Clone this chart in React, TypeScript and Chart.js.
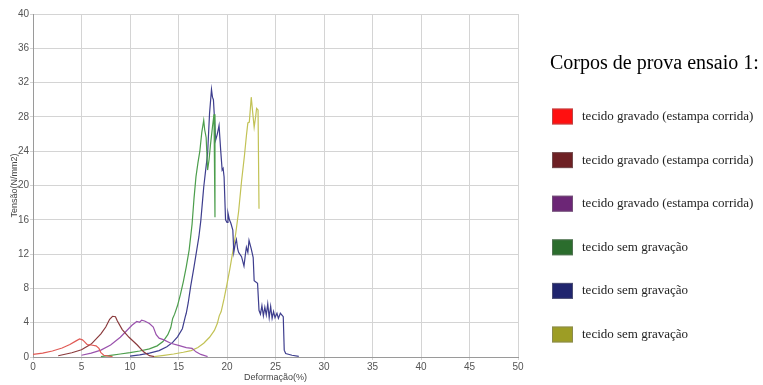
import React, { useEffect, useRef } from "react";
import { Chart, registerables } from "chart.js";

Chart.register(...registerables);

const LEGEND_TITLE = "Corpos de prova ensaio 1:";
const X_TITLE = "Deformação(%)";
const Y_TITLE = "Tensão(N/mm2)";

const seriesLabels = [
  "tecido gravado (estampa corrida)",
  "tecido gravado (estampa corrida)",
  "tecido gravado (estampa corrida)",
  "tecido sem gravação",
  "tecido sem gravação",
  "tecido sem gravação",
];
const lineColors = ["#e05a55", "#8a3a3c", "#9a52ad", "#4c9e4c", "#3e3e8e", "#c2c255"];
const legendColors = ["#ff1010", "#6e2024", "#6c2676", "#2b6d2d", "#20256e", "#9d9d25"];

// Series 1 (red)
const s1Strain = [0, 1, 2, 3, 3.8, 4.4, 4.8, 5.1, 5.3, 5.6, 6.0, 6.5, 6.8, 7.0, 7.3, 7.8, 8.2];
const s1Stress = [0.3, 0.45, 0.7, 1.05, 1.45, 1.85, 2.1, 2.0, 1.8, 1.45, 1.4, 1.3, 1.0, 0.5, 0.2, 0.1, 0.05];
// Series 2 (brown)
const s2Strain = [2.6, 4, 5, 6, 7, 7.5, 7.9, 8.2, 8.5, 8.7, 9.2, 9.9, 10.75, 11.4, 12.0, 12.5];
const s2Stress = [0.15, 0.5, 0.85, 1.5, 2.7, 3.5, 4.4, 4.75, 4.7, 4.2, 3.2, 2.3, 1.4, 0.6, 0.15, 0.05];
// Series 3 (purple)
const s3Strain = [5, 6, 7, 8, 9, 9.6, 10.2, 10.7, 11.0, 11.2, 11.5, 12.0, 12.4, 12.7, 13.0, 13.5, 14.2, 15, 15.8, 16.4, 16.8, 17.3, 18.0];
const s3Stress = [0.2, 0.45, 0.8, 1.4, 2.3, 3.0, 3.7, 4.15, 4.05, 4.3, 4.2, 3.9, 3.5, 2.6, 2.2, 2.0, 1.6, 1.35, 1.1, 1.0, 0.6, 0.3, 0.05];
// Series 4 (green)
const s4Strain = [7.0, 8, 9, 10, 11, 12, 12.8, 13.4, 13.9, 14.2, 14.4, 14.6, 14.9, 15.2, 15.5, 15.8, 16.1, 16.4, 16.6, 16.8, 17.0, 17.2, 17.4, 17.6, 17.7, 17.85, 18.0, 18.15, 18.3, 18.5, 18.66, 18.76];
const s4Stress = [0.05, 0.2, 0.35, 0.5, 0.7, 0.95, 1.3, 1.8, 2.6, 3.4, 4.5, 5.0, 6.0, 7.3, 8.8, 10.5, 12.5, 15.5, 18.5, 21.0, 22.6, 24.0, 26.2, 27.6, 26.5, 25.6, 21.8, 23.0, 24.8, 26.8, 28.3, 16.3];
// Series 5 (navy)
const s5Strain = [10, 11, 12, 13, 13.8, 14.4, 14.9, 15.4, 15.7, 15.8, 16.0, 16.25, 16.6, 16.9, 17.1, 17.3, 17.5, 17.6, 17.8, 18.0, 18.2, 18.35, 18.4, 18.5, 18.6, 18.7, 18.83, 19.0, 19.18, 19.35, 19.5, 19.6, 19.7, 19.85, 20.0, 20.1, 20.25, 20.4, 20.6, 20.7, 20.85, 20.97, 21.1, 21.2, 21.5, 21.75, 21.9, 22.0, 22.15, 22.27, 22.5, 22.7, 22.8, 23.15, 23.3, 23.45, 23.6, 23.75, 23.9, 24.05, 24.2, 24.35, 24.5, 24.65, 24.8, 24.95, 25.15, 25.3, 25.5, 25.8, 25.9, 26.05, 26.7, 27.4];
const s5Stress = [0.1, 0.25, 0.45, 0.75, 1.2, 1.7, 2.35, 3.3, 4.7, 5.1, 6.3, 8.2, 10.5, 12.6, 14.0, 15.9, 18.5, 19.8, 21.8, 23.7, 28.4, 30.5, 31.2, 30.3, 30.0, 28.0, 25.3, 26.0, 27.0, 24.1, 21.8, 22.0, 21.0, 16.0, 15.7, 16.8, 16.0, 15.6, 14.8, 12.2, 13.2, 13.7, 12.6, 12.2, 11.7, 10.6, 12.0, 12.8, 12.2, 13.6, 12.6, 11.6, 8.9, 8.6, 5.45, 5.0, 6.0, 4.8, 5.8, 4.9, 6.2, 4.6, 5.9, 4.5, 5.3, 4.6, 5.1, 4.5, 5.1, 4.7, 0.8, 0.4, 0.2, 0.08];
// Series 6 (olive)
const s6Strain = [12.5, 13.5, 14.5, 15.5, 16.3, 17, 17.6, 18.2, 18.7, 19.0, 19.2, 19.4, 19.7, 20.0, 20.3, 20.6, 20.9, 21.2, 21.5, 21.8, 22.0, 22.15, 22.3, 22.5, 22.65, 22.8, 22.95, 23.05, 23.2, 23.3];
const s6Stress = [0.05, 0.2, 0.35, 0.55, 0.75, 1.1, 1.6, 2.3, 3.1, 3.9, 4.8, 5.3, 6.8, 8.5, 10.3, 12.3, 14.4, 17.0, 20.5, 23.5, 25.8, 27.3, 27.4, 30.3, 28.5, 26.8, 28.0, 29.0, 28.8, 17.3];

const strains = [s1Strain, s2Strain, s3Strain, s4Strain, s5Strain, s6Strain];
const stresses = [s1Stress, s2Stress, s3Stress, s4Stress, s5Stress, s6Stress];

const X_MIN = 0, X_MAX = 50, X_STEP = 5;
const Y_MIN = 0, Y_MAX = 40, Y_STEP = 4;

const legendPlugin = {
  id: "sideLegend",
  afterDraw(chart: any) {
    const ctx = chart.ctx;
    ctx.save();
    ctx.fillStyle = "#000";
    ctx.textBaseline = "middle";
    ctx.textAlign = "left";
    ctx.font = "20px 'Liberation Serif', 'Times New Roman', serif";
    ctx.fillText(LEGEND_TITLE, 550, 64);
    ctx.font = "13px 'Liberation Serif', 'Times New Roman', serif";
    chart.data.datasets.forEach((ds: any, i: number) => {
      const cy = 116.5 + i * 43.6;
      ctx.fillStyle = legendColors[i];
      ctx.fillRect(552, cy - 8, 21, 16);
      ctx.strokeStyle = "rgba(120,120,120,0.5)";
      ctx.lineWidth = 1;
      ctx.strokeRect(552.5, cy - 7.5, 20, 15);
      ctx.fillStyle = "#222";
      ctx.fillText(ds.label, 582, cy);
    });
    ctx.restore();
  },
};

export default function App() {
  const ref = useRef<HTMLCanvasElement>(null);
  useEffect(() => {
    if (!ref.current) return;
    const datasets = strains.map((xs, i) => ({
      label: seriesLabels[i],
      data: xs.map((x, j) => ({ x, y: stresses[i][j] })),
      borderColor: lineColors[i],
      backgroundColor: lineColors[i],
      borderWidth: 1.2,
      pointRadius: 0,
      showLine: true,
      fill: false,
      tension: 0,
    }));
    const tickFont = { family: "'Liberation Sans', Arial, sans-serif", size: 10 };
    const chart = new Chart(ref.current, {
      type: "scatter",
      data: { datasets },
      options: {
        animation: false,
        responsive: false,
        layout: { padding: { top: 14, right: 245, bottom: 0, left: 0 } },
        plugins: {
          legend: { display: false },
          tooltip: { enabled: false },
        },
        scales: {
          x: {
            type: "linear",
            min: X_MIN,
            max: X_MAX,
            ticks: { stepSize: X_STEP, font: tickFont, color: "#555", padding: 1, maxRotation: 0 },
            grid: { color: "#d4d4d4", tickLength: 3, lineWidth: 1 },
            border: { color: "#9a9a9a" },
            title: {
              display: true,
              text: X_TITLE,
              font: { family: "'Liberation Sans', Arial, sans-serif", size: 9 },
              color: "#444",
              padding: { top: 0, bottom: 2 },
            },
            afterFit(scale: any) {
              scale.height = 28;
            },
          },
          y: {
            type: "linear",
            min: Y_MIN,
            max: Y_MAX,
            ticks: { stepSize: Y_STEP, font: tickFont, color: "#555", padding: 1 },
            grid: { color: "#d4d4d4", tickLength: 3, lineWidth: 1 },
            border: { color: "#9a9a9a" },
            title: {
              display: true,
              text: Y_TITLE,
              font: { family: "'Liberation Sans', Arial, sans-serif", size: 9 },
              color: "#444",
              padding: { top: 9, bottom: 0 },
            },
            afterFit(scale: any) {
              scale.width = 33;
            },
          },
        },
      },
      plugins: [legendPlugin],
    } as any);
    return () => chart.destroy();
  }, []);
  return (
    <canvas
      ref={ref}
      width={763}
      height={385}
      style={{ position: "absolute", left: 0, top: 0, width: 763, height: 385 }}
    />
  );
}
